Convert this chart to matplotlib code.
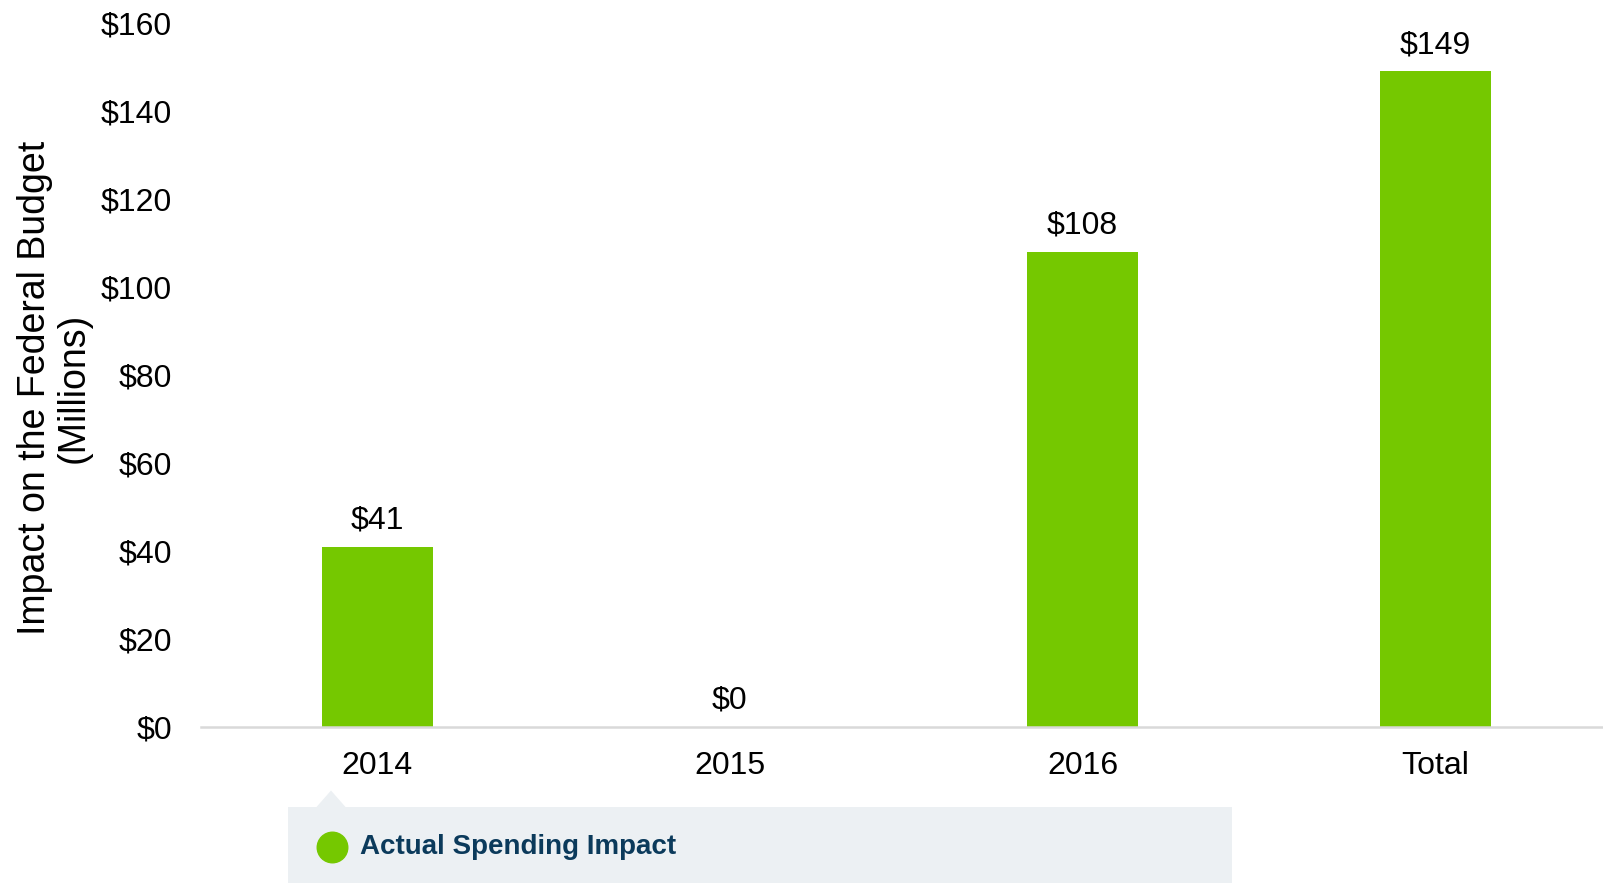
import matplotlib
matplotlib.use('Agg')
import matplotlib.pyplot as plt
from matplotlib.patches import Rectangle, Polygon
from matplotlib.lines import Line2D

plt.rcParams['font.family'] = ['Liberation Sans', 'DejaVu Sans']

# data
categories = ['2014', '2015', '2016', 'Total']
values = [41, 0, 108, 149]
series_name = 'Actual Spending Impact'
y_ticks = [0, 20, 40, 60, 80, 100, 120, 140, 160]

green = '#75C800'
W, H = 1603, 883

fig = plt.figure(figsize=(16.03, 8.83), dpi=100)
ax = fig.add_axes([201 / W, 1 - 727 / H, 1 - 201 / W, (727 - 23) / H])

x = list(range(len(categories)))
ax.bar(x, values, width=0.315, color=green, zorder=2)

for xi, v in zip(x, values):
    ax.annotate(f'${v}', (xi, v), xytext=(0, 13), textcoords='offset points',
                ha='center', va='baseline', fontsize=23, color='black')

ax.set_xlim(-0.5, 3.476)
ax.set_ylim(0, 160)
ax.set_xticks(x)
ax.set_xticklabels(categories, fontsize=23)
ax.set_yticks(y_ticks)
ax.set_yticklabels([f'${t}' for t in y_ticks], fontsize=23)
ax.tick_params(axis='x', length=0, pad=17)
ax.tick_params(axis='y', length=0, pad=21)

for s in ['top', 'right', 'left']:
    ax.spines[s].set_visible(False)
ax.spines['bottom'].set_color('#D9D9D9')
ax.spines['bottom'].set_linewidth(1.8)
ax.spines['bottom'].set_zorder(3)

fig.text(0.034, 1 - 387.5 / H, 'Impact on the Federal Budget\n(Millions)',
         rotation=90, ha='center', va='center', fontsize=27, linespacing=1.1)

# legend panel with pointer
box_col = '#ECF0F3'
fig.add_artist(Rectangle((288 / W, 0), (1232 - 288) / W, (883 - 806.7) / H,
                         transform=fig.transFigure, facecolor=box_col,
                         edgecolor='none'))
fig.add_artist(Polygon([(316.5 / W, 1 - 807 / H), (331 / W, 1 - 790.5 / H),
                        (345.5 / W, 1 - 807 / H)], closed=True,
                       transform=fig.transFigure, facecolor=box_col,
                       edgecolor='none'))
fig.add_artist(Line2D([332 / W], [1 - 846.7 / H], transform=fig.transFigure,
                      marker='o', markersize=22, color=green, linestyle='none'))
fig.text(360 / W, 1 - 847 / H, series_name, ha='left', va='center',
         fontsize=20, fontweight='bold', color='#0B3A5B')

fig.savefig('out.png', dpi=100)
